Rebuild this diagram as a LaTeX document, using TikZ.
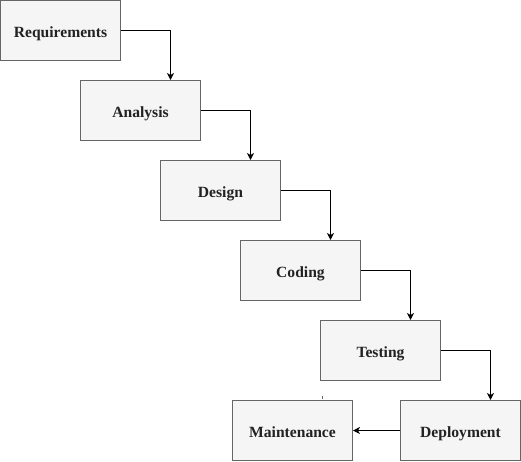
\documentclass[tikz,border=0pt]{standalone}
\usepackage{fontspec}
\setmainfont{Liberation Serif}
\usepackage{tikz}
\usetikzlibrary{arrows,arrows.meta}
\definecolor{boxfill}{HTML}{F5F5F5}
\definecolor{boxline}{HTML}{666666}
\definecolor{boxtext}{HTML}{222222}
\tikzset{phase/.style={draw=boxline, fill=boxfill, line width=1pt, minimum width=120pt, minimum height=60pt, inner sep=0pt, text height=13.2pt, text depth=0pt, text=boxtext, font=\fontsize{15.6}{18}\selectfont\bfseries}}
\tikzset{flow/.style={black, line width=1pt, -{Stealth[length=7pt,width=7pt,inset=2pt]}}}

\begin{document}
\begin{tikzpicture}  [x=1pt,y=-1pt]
\useasboundingbox (0,0) rectangle (521,461);
\foreach \name/\txt [count=\i from 0] in {req/Requirements,ana/Analysis,des/Design,cod/Coding,tes/Testing,dep/Deployment} \node[phase] (\name) at (60.5+80*\i,30.5+80*\i) {\txt};
\node[phase] (mai) at (292.5,430.5) {Maintenance};
\foreach \a/\b in {req/ana,ana/des,des/cod,cod/tes,tes/dep} \draw[flow] (\a.east) -| ([xshift=30pt]\b.north);
\draw[flow] (dep.west) -- (mai.east);
\draw[boxline] (322,396) -- (322,399);
\end{tikzpicture}
\end{document}
